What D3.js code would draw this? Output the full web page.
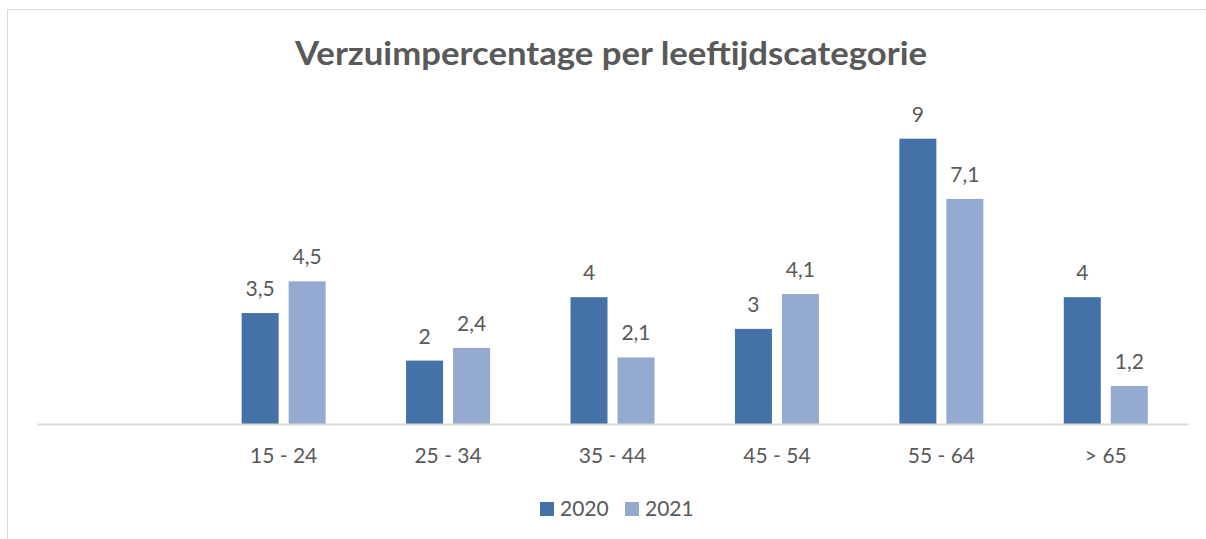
<!DOCTYPE html>
<html>
<head>
<meta charset="utf-8">
<script src="https://cdn.jsdelivr.net/npm/d3@7"></script>
<style>
  body { margin: 0; background: #fff; }
  text { font-family: Lato, "Open Sans", sans-serif; fill: #595959; }
</style>
</head>
<body>
<svg width="1206" height="539"></svg>
<script>
// categories (first slot is empty in the original chart)
var categories = ["", "15 - 24", "25 - 34", "35 - 44", "45 - 54", "55 - 64", "> 65"];
var series = ["2020", "2021"];
var values2020 = [null, 3.5, 2, 4, 3, 9, 4];
var values2021 = [null, 4.5, 2.4, 2.1, 4.1, 7.1, 1.2];
var colors = ["#4472a8", "#95aad0"];

var svgWidth = 1206, svgHeight = 539;
var svg = d3.select("svg");

// chart border
svg.append("rect")
    .attr("x", 7.5).attr("y", 9.5)
    .attr("width", 1220).attr("height", 560)
    .attr("fill", "none")
    .attr("stroke", "#d9d9d9");

// title
svg.append("text")
    .attr("x", 611).attr("y", 65)
    .attr("text-anchor", "middle")
    .attr("font-size", 32)
    .attr("font-weight", "bold")
    .attr("textLength", 632)
    .attr("lengthAdjust", "spacingAndGlyphs")
    .text("Verzuimpercentage per leeftijdscategorie");

var x = d3.scaleBand().domain(categories).range([37, 1188]);
var y = d3.scaleLinear().domain([0, 10]).range([424, 107]);

var barW = 37, gap = 10;

var rows = categories.map(function(c, i) {
    return { cat: c, vals: [values2020[i], values2021[i]] };
});

var groups = svg.selectAll("g.cat")
    .data(rows)
    .enter()
    .append("g")
    .attr("class", "cat")
    .attr("transform", function(d) {
        return "translate(" + (x(d.cat) + x.bandwidth() / 2) + ",0)";
    });

groups.each(function(d) {
    var g = d3.select(this);
    d.vals.forEach(function(v, j) {
        if (v == null) return;
        var bx = j == 0 ? -(barW + gap / 2) : gap / 2;
        g.append("rect")
            .attr("x", bx)
            .attr("y", y(v))
            .attr("width", barW)
            .attr("height", y(0) - y(v))
            .attr("fill", colors[j]);
        g.append("text")
            .attr("x", bx + barW / 2)
            .attr("y", y(v) - 17)
            .attr("text-anchor", "middle")
            .attr("font-size", 21)
            .text(String(v).replace(".", ","));
    });
});

// x axis
var xAxis = svg.append("g")
    .attr("transform", "translate(0," + y(0) + ")")
    .call(d3.axisBottom(x).tickSize(0).tickPadding(0));
xAxis.select(".domain").attr("stroke", "#d9d9d9").attr("stroke-width", 2);
xAxis.selectAll("text")
    .attr("font-size", 21)
    .attr("dy", null)
    .attr("y", 39)
    .style("fill", "#595959")
    .style("font-family", "Lato, sans-serif");

// legend
var legend = svg.selectAll("g.leg")
    .data(series)
    .enter()
    .append("g")
    .attr("class", "leg")
    .attr("transform", function(d, i) {
        return "translate(" + (540 + i * 85) + ",502)";
    });
legend.append("rect")
    .attr("width", 14).attr("height", 14)
    .attr("fill", function(d, i) { return colors[i]; });
legend.append("text")
    .attr("x", 20).attr("y", 14)
    .attr("font-size", 21)
    .text(function(d) { return d; });
</script>
</body>
</html>
